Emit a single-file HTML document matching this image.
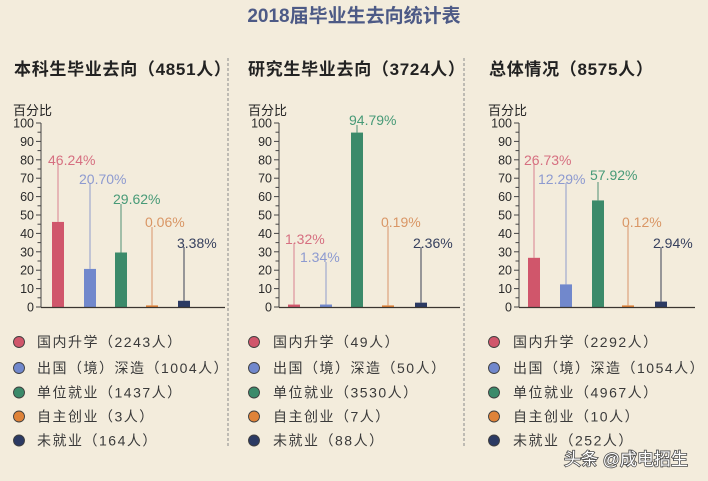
<!DOCTYPE html>
<html><head><meta charset="utf-8"><style>
html,body{margin:0;padding:0;background:#f3ecdc;}
svg{display:block;}
text{font-family:"Liberation Sans","Noto Sans CJK SC",sans-serif;}
</style></head><body>
<svg width="708" height="481" viewBox="0 0 708 481" xmlns="http://www.w3.org/2000/svg">
<rect width="708" height="481" fill="#f3ecdc"/>
<text x="354" y="22" text-anchor="middle" font-size="19" font-weight="bold" fill="#4d5a86">2018届毕业生去向统计表</text>

<text x="14" y="75" font-size="17" font-weight="bold" fill="#222" letter-spacing="0.7">本科生毕业去向（4851人）</text>
<text x="248" y="75" font-size="17" font-weight="bold" fill="#222" letter-spacing="0.7">研究生毕业去向（3724人）</text>
<text x="489" y="75" font-size="17" font-weight="bold" fill="#222" letter-spacing="0.7">总体情况（8575人）</text>

<line x1="228" y1="58" x2="228" y2="446" stroke="#8a8a8a" stroke-width="1" stroke-dasharray="3,2"/>
<line x1="464" y1="58" x2="464" y2="446" stroke="#8a8a8a" stroke-width="1" stroke-dasharray="3,2"/>

<g id="axes" font-size="12" fill="#2a2a2a">
<text x="13" y="115" font-size="13" fill="#222">百分比</text>
<text x="248" y="115" font-size="13" fill="#222">百分比</text>
<text x="488" y="115" font-size="13" fill="#222">百分比</text>
</g>
<g id="chart"></g>
<g id="legend"></g>

<text x="564" y="465" font-size="17" fill="#ffffff" stroke="#4a4a4a" stroke-width="1.6" paint-order="stroke" font-family="'Liberation Sans','Noto Sans CJK SC',sans-serif">头条 @成电招生</text>

<script>
(function(){
var NS="http://www.w3.org/2000/svg";
var g=document.getElementById("chart");
var lg=document.getElementById("legend");
function el(t,a,txt,p){var e=document.createElementNS(NS,t);for(var k in a)e.setAttribute(k,a[k]);if(txt!=null)e.textContent=txt;(p||g).appendChild(e);return e;}
function Y(v){return 307-v*1.84;}
var barC=["#d0566b","#7188cc","#3b8a6a","#df8339","#2b3a63"];
var labC=["#d66f80","#8d9ad0","#479a77","#d99665","#36405e"];
var lineC=["#d88090","#8f9ccb","#4f8f73","#d9956a","#3a3f55"];
var panels=[
 {ax:41,xe:225,c:[58,90,121,152,184],v:[46.24,20.70,29.62,0.06,3.38],
  l:["46.24%","20.70%","29.62%","0.06%","3.38%"],lx:[48,79,113,145,177],ly:[160,179,199,222,243],lt:[164,183,204,227,247]},
 {ax:279,xe:460,c:[294,326,357,388,421],v:[1.32,1.34,94.79,0.19,2.36],
  l:["1.32%","1.34%","94.79%","0.19%","2.36%"],lx:[285,300,349,381,413],ly:[239,257,120,222,243],lt:[243,262,125,226,247]},
 {ax:519,xe:695,c:[534,566,598,628,661],v:[26.73,12.29,57.92,0.12,2.94],
  l:["26.73%","12.29%","57.92%","0.12%","2.94%"],lx:[524,538,590,622,653],ly:[160,179,175,222,243],lt:[164,183,182,226,247]}
];
panels.forEach(function(p){
 for(var v=0;v<=100;v+=5){
  var y=Y(v);
  var len=(v%10===0)?5:3.5;
  el("line",{x1:p.ax-len,y1:y,x2:p.ax,y2:y,stroke:"#444","stroke-width":1});
  if(v%10===0) el("text",{x:p.ax-7,y:y+4.5,"text-anchor":"end","font-size":12.5,fill:"#2a2a2a"},String(v));
 }
 el("line",{x1:p.ax,y1:Y(100),x2:p.ax,y2:307.5,stroke:"#444","stroke-width":1});
 for(var i=0;i<5;i++){
  var h=Math.max(p.v[i]*1.84,1.6);
  el("line",{x1:p.c[i],y1:p.lt[i],x2:p.c[i],y2:307-h,stroke:lineC[i],"stroke-width":1});
  el("rect",{x:p.c[i]-6,y:307-h,width:12,height:h,fill:barC[i]});
  el("text",{x:p.lx[i],y:p.ly[i]+5,"font-size":14,fill:labC[i]},p.l[i]);
 }
 el("line",{x1:p.ax,y1:307.5,x2:p.xe,y2:307.5,stroke:"#3a3530","stroke-width":1.2});
});
var legends=[
 {cx:19,tx:37,t:["国内升学（2243人）","出国（境）深造（1004人）","单位就业（1437人）","自主创业（3人）","未就业（164人）"]},
 {cx:254,tx:273,t:["国内升学（49人）","出国（境）深造（50人）","单位就业（3530人）","自主创业（7人）","未就业（88人）"]},
 {cx:494,tx:513,t:["国内升学（2292人）","出国（境）深造（1054人）","单位就业（4967人）","自主创业（10人）","未就业（252人）"]}
];
var ly=[342,368,392.5,416.5,440.5];
legends.forEach(function(L){
 for(var i=0;i<5;i++){
  el("circle",{cx:L.cx,cy:ly[i],r:5.5,fill:barC[i],stroke:"#3e3e3e","stroke-width":0.9},null,lg);
  el("text",{x:L.tx,y:ly[i]+5,"font-size":14,fill:"#3a3a3a","letter-spacing":1.5},L.t[i],lg);
 }
});
})();
</script>
</svg>
</body></html>
